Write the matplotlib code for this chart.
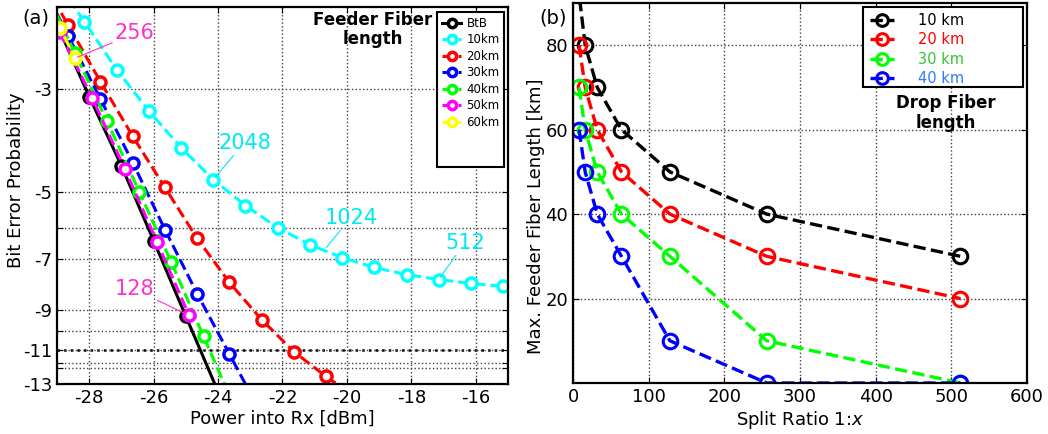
import numpy as np
import matplotlib
matplotlib.use('Agg')
import matplotlib.pyplot as plt
from matplotlib.patches import Rectangle

plt.rcParams['font.family'] = ['DejaVu Sans']
plt.rcParams['axes.unicode_minus'] = False

# ---- panel (a): BER curves, y = log10(BER)
btb_x = [-29, -28, -27, -26, -25, -24]
btb_y = [-2.18, -3.12, -4.40, -6.38, -9.29, -13.5]
km10_x = [-29.15, -28.15, -27.15, -26.15, -25.15, -24.15, -23.15, -22.15,
          -21.15, -20.15, -19.15, -18.15, -17.15, -16.15, -15.15]
km10_y = [-1.70, -2.15, -2.73, -3.35, -4.02, -4.71, -5.36, -5.98,
          -6.51, -6.94, -7.29, -7.55, -7.74, -7.89, -8.01]
km20_x = [-29.65, -28.65, -27.65, -26.65, -25.65, -24.65, -23.65, -22.65,
          -21.65, -20.65, -19.65]
km20_y = [-1.66, -2.19, -2.90, -3.80, -4.90, -6.31, -7.85, -9.44,
          -11.07, -12.52, -14.0]
km30_x = [-29.65, -28.65, -27.65, -26.65, -25.65, -24.65, -23.65, -22.65]
km30_y = [-1.69, -2.31, -3.16, -4.33, -6.04, -8.30, -11.2, -15.1]
km40_x = [-29.45, -28.45, -27.45, -26.45, -25.45, -24.45, -23.45]
km40_y = [-1.79, -2.51, -3.52, -5.0, -7.11, -10.26, -14.8]
km50_x = [-28.9, -27.9, -26.9, -25.9, -24.9]
km50_y = [-2.27, -3.15, -4.46, -6.41, -9.25]
km60_x = [-29.2, -28.9, -28.45]
km60_y = [-2.0, -2.22, -2.58]

ber_ticks = [-3, -5, -7, -9, -11, -13]
ber_extra = [-6, -10, -11.7, -12]

# ---- panel (b): max feeder length vs split ratio
split = [8, 16, 32, 64, 128, 256, 512]
drop10 = [92, 80, 70, 60, 50, 40, 30]
drop20 = [80, 70, 60, 50, 40, 30, 20]
drop30 = [70, 60, 50, 40, 30, 10, 0]
drop40 = [60, 50, 40, 30, 10, 0, 0]


def fwd(y):
    return -np.log10(np.maximum(-np.asarray(y, dtype=float), 1e-3))


def inv(u):
    return -10.0 ** (-np.asarray(u, dtype=float))


fig = plt.figure(figsize=(10.48, 4.34), dpi=100)
ax1 = fig.add_axes([0.0544, 0.1152, 0.4303, 0.8687])
ax2 = fig.add_axes([0.5468, 0.1175, 0.4332, 0.8756])

gridkw = dict(color='0.25', linestyle=':', linewidth=1.0)

# ---------------- panel (a)
ax1.set_yscale('function', functions=(fwd, inv))
mk = dict(marker='o', markersize=8, markerfacecolor='white', markeredgewidth=2.5)
ax1.plot(btb_x, btb_y, '-', color='black', lw=2.2, markevery=[1, 2, 3, 4],
         label='BtB', **mk)
series = [(km10_x, km10_y, '#00ffff', '10km'), (km20_x, km20_y, '#ff0000', '20km'),
          (km30_x, km30_y, '#0000ff', '30km'), (km40_x, km40_y, '#00ff00', '40km'),
          (km50_x, km50_y, '#ff00ff', '50km'), (km60_x, km60_y, '#ffff00', '60km')]
for xs, ys, c, lab in series:
    ax1.plot(xs, ys, '--', color=c, lw=2.2, label=lab, **mk)

ax1.set_xlim(-29, -15)
ax1.set_ylim(-13, -2)
ax1.set_xticks([-28, -26, -24, -22, -20, -18, -16])
yt = sorted(ber_ticks + ber_extra)
ax1.set_yticks(yt)
ax1.set_yticklabels([str(t) if t in ber_ticks else '' for t in yt])
ax1.yaxis.set_minor_locator(matplotlib.ticker.NullLocator())
ax1.grid(True, **gridkw)
ax1.axhline(-11, color='black', linestyle=':', linewidth=1.8, zorder=1)
ax1.tick_params(direction='in', top=True, right=True, labelsize=13, length=4)
for s in ax1.spines.values():
    s.set_linewidth(1.6)
ax1.set_xlabel('Power into Rx [dBm]', fontsize=13, labelpad=2)
ax1.set_ylabel('Bit Error Probability', fontsize=13)
ax1.yaxis.set_label_coords(-0.072, 0.54)

pink = '#ff33cc'
cyan = '#00e8f0'
ax1.annotate('256', xy=(-28.45, -2.58), xytext=(-27.2, -2.28), color=pink,
             fontsize=15, ha='left', va='center',
             arrowprops=dict(arrowstyle='-', color=pink, lw=0.8, shrinkA=0, shrinkB=2))
ax1.annotate('2048', xy=(-24.15, -4.71), xytext=(-24.0, -3.92), color=cyan,
             fontsize=15, ha='left', va='center',
             arrowprops=dict(arrowstyle='-', color=cyan, lw=0.8, shrinkA=0, shrinkB=2))
ax1.annotate('1024', xy=(-20.7, -6.68), xytext=(-20.7, -5.69), color=cyan,
             fontsize=15, ha='left', va='center',
             arrowprops=dict(arrowstyle='-', color=cyan, lw=0.8, shrinkA=0, shrinkB=2))
ax1.annotate('512', xy=(-17.15, -7.74), xytext=(-16.95, -6.44), color=cyan,
             fontsize=15, ha='left', va='center',
             arrowprops=dict(arrowstyle='-', color=cyan, lw=0.8, shrinkA=0, shrinkB=2))
ax1.annotate('128', xy=(-24.9, -9.25), xytext=(-27.2, -8.13), color=pink,
             fontsize=15, ha='left', va='center',
             arrowprops=dict(arrowstyle='-', color=pink, lw=0.8, shrinkA=0, shrinkB=2))

ax1.text(0.70, 0.94, 'Feeder Fiber\nlength', transform=ax1.transAxes,
         fontsize=12, fontweight='bold', ha='center', va='center', linespacing=1.1)

ax1.add_patch(Rectangle((0.843, 0.576), 0.148, 0.411, transform=ax1.transAxes,
                        facecolor='white', edgecolor='black', lw=1.5, zorder=5))
leg1 = ax1.legend(loc='upper left', bbox_to_anchor=(0.845, 0.985), frameon=False,
                  fontsize=8.5, handlelength=1.6, handletextpad=0.45, labelspacing=0.3,
                  borderaxespad=0, borderpad=0.35, markerscale=0.75)
leg1.set_zorder(6)

# ---------------- panel (b)
mk2 = dict(marker='o', markersize=10.5, markerfacecolor='none', markeredgewidth=2.2)
drops = [(drop10, 'black', '10 km', 'black'), (drop20, '#ff0000', '20 km', '#ff0000'),
         (drop30, '#00ff00', '30 km', '#33c633'), (drop40, '#0000ff', '40 km', '#2f7bff')]
for ys, c, lab, tc in drops:
    ax2.plot(split, ys, '--', color=c, lw=2.4, label=lab, **mk2)

ax2.set_xlim(0, 600)
ax2.set_ylim(0, 90)
ax2.set_xticks([0, 100, 200, 300, 400, 500, 600])
ax2.set_yticks([20, 40, 60, 80])
ax2.grid(True, **gridkw)
ax2.tick_params(direction='in', top=True, right=True, labelsize=13, length=4)
for s in ax2.spines.values():
    s.set_linewidth(1.6)
ax2.set_xlabel('Split Ratio 1:$\\mathit{x}$', fontsize=13, labelpad=2)
ax2.set_ylabel('Max. Feeder Fiber Length [km]', fontsize=13)
ax2.yaxis.set_label_coords(-0.062, 0.44)

ax2.add_patch(Rectangle((0.639, 0.779), 0.352, 0.21, transform=ax2.transAxes,
                        facecolor='white', edgecolor='black', lw=1.5, zorder=5))
leg2 = ax2.legend(loc='upper left', bbox_to_anchor=(0.645, 0.985), frameon=False,
                  fontsize=10.5, handlelength=1.65, handletextpad=1.6, labelspacing=0.3,
                  borderaxespad=0, borderpad=0.3, markerscale=0.8)
leg2.set_zorder(6)
for txt, (_, _, _, tc) in zip(leg2.get_texts(), drops):
    txt.set_color(tc)

ax2.text(0.82, 0.71, 'Drop Fiber\nlength', transform=ax2.transAxes,
         fontsize=12, fontweight='bold', ha='center', va='center', linespacing=1.1)

fig.text(0.021, 0.958, '(a)', fontsize=14, ha='left', va='center')
fig.text(0.515, 0.958, '(b)', fontsize=14, ha='left', va='center')

fig.savefig('out.png', dpi=100)
